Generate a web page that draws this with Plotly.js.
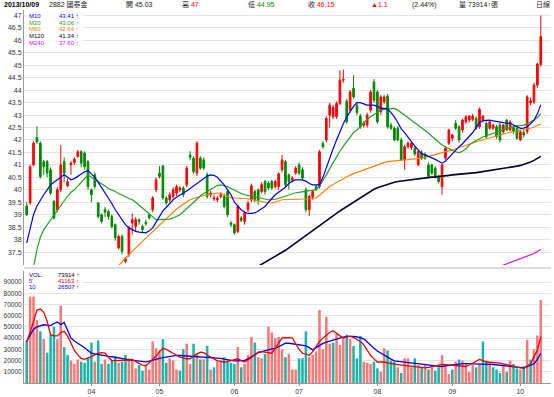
<!DOCTYPE html>
<html><head><meta charset="utf-8">
<script src="https://cdn.plot.ly/plotly-3.0.1.min.js"></script>
<style>html,body{margin:0;padding:0;background:#fff}#c{width:554px;height:397px}</style>
</head><body><div id="c"></div>
<script>
// ---- data (2882 國泰金, daily, index 0 = first visible trading day) ----
const openP = [39.35,39.47,41.0,42.1,41.87,41.13,41.13,40.8,39.53,39.2,40.0,41.13,40.16,41.0,41.1,41.33,41.53,41.47,41.13,40.0,40.6,39.47,39.0,39.2,39.13,38.93,38.6,37.67,38.13,37.13,37.4,38.67,38.53,38.8,38.53,38.7,39.0,39.2,40.0,40.67,40.96,39.67,39.6,39.73,39.87,40.0,40.07,40.2,41.4,41.27,40.67,41.27,41.2,40.6,39.8,39.63,39.6,39.73,39.73,39.93,38.67,38.6,38.33,38.87,38.73,39.2,39.6,39.93,40.0,39.93,40.33,40.27,40.33,40.13,40.13,40.8,41.13,40.6,40.4,40.67,41.0,40.8,40.0,39.2,39.7,40.13,40.13,41.87,42.0,43.0,42.93,42.93,43.47,44.4,43.56,43.2,44.07,43.4,42.96,42.6,42.6,43.2,44.33,43.93,43.13,43.53,43.76,42.6,42.47,42.47,42.0,41.2,41.73,41.7,41.67,41.0,41.49,41.44,41.0,41.0,40.87,40.53,40.13,41.27,41.87,42.07,42.67,42.53,42.4,42.73,42.8,42.83,42.87,42.53,42.8,42.67,42.47,42.47,42.53,42.6,42.33,42.8,42.4,42.5,42.47,42.0,42.3,42.33,43.5,43.53,44.2,45.03];
const highP = [39.5,41.0,41.95,42.55,41.95,41.2,41.2,40.9,39.6,40.1,41.8,41.3,40.45,41.15,41.3,41.6,41.6,41.55,41.2,40.05,40.7,39.5,39.05,39.3,39.2,39.0,38.65,38.2,38.2,37.3,38.55,39.05,38.9,38.85,38.6,38.8,39.05,39.75,40.5,40.95,41.0,39.75,39.9,40.1,40.2,40.15,40.15,40.95,41.55,41.35,41.95,41.35,41.3,40.7,39.95,39.8,39.75,39.9,39.85,40.0,38.75,38.65,39.4,38.95,39.15,39.55,40.25,40.0,40.05,40.3,40.4,40.35,40.4,40.4,40.7,41.4,41.2,40.65,40.55,40.95,41.1,40.9,40.1,39.8,40.0,40.2,41.6,41.95,42.95,43.5,43.4,43.55,44.8,44.83,43.65,44.0,44.6,43.5,43.05,42.75,43.1,44.0,44.45,44.0,43.8,43.8,43.85,42.7,42.55,42.55,42.1,41.8,41.95,41.95,41.75,41.6,41.6,41.5,41.1,41.05,40.95,40.6,41.05,41.75,42.45,42.25,42.8,42.6,42.85,43.0,43.0,43.05,42.95,43.3,43.0,42.75,42.8,42.65,42.6,42.7,42.65,42.85,42.8,42.6,42.55,42.4,42.4,43.8,43.7,44.3,45.1,47.0];
const lowP = [38.95,39.4,40.95,41.85,40.45,40.6,40.5,39.8,38.8,39.1,39.9,40.3,40.1,40.6,41.0,41.3,40.9,40.8,40.0,39.5,40.05,38.85,38.65,38.9,38.8,38.45,37.95,37.6,37.4,37.05,37.3,38.2,38.3,38.6,38.3,38.55,38.8,39.1,39.9,40.45,39.6,39.4,39.5,39.65,39.75,39.9,39.7,40.1,41.2,40.65,40.55,40.8,40.8,39.65,39.7,39.55,39.5,39.65,39.25,38.9,38.5,38.2,38.25,38.7,38.6,39.1,39.5,39.5,39.4,39.85,39.8,40.0,40.0,40.05,40.0,40.7,40.1,40.0,40.3,40.6,40.6,40.4,39.1,38.95,39.6,39.95,40.05,41.65,41.9,42.5,42.85,42.85,43.4,44.3,42.65,43.1,43.65,43.0,42.45,42.5,42.5,43.1,43.5,42.65,43.0,43.45,42.45,42.4,41.95,41.95,41.15,40.8,41.65,41.6,41.35,40.95,41.2,41.2,40.45,40.6,40.45,40.25,39.8,41.2,41.8,41.95,42.4,41.9,42.3,42.65,42.7,42.75,42.4,42.45,42.7,42.05,42.4,42.4,42.05,41.9,42.25,42.35,42.35,42.25,42.0,41.95,42.1,42.25,43.4,43.45,44.1,44.95];
const closeP = [39.0,40.93,41.87,41.93,40.53,40.93,40.67,39.87,38.87,40.0,41.0,40.67,40.33,41.07,41.23,41.53,41.07,40.93,40.13,39.8,40.13,38.93,38.73,39.1,38.93,38.53,38.07,38.13,37.53,37.23,38.47,38.8,38.8,38.73,38.4,38.64,38.87,39.67,40.4,40.53,39.67,39.47,39.8,40.0,40.13,40.07,39.8,40.87,41.3,40.73,41.87,40.87,40.87,39.73,39.87,39.67,39.67,39.8,39.33,39.0,38.6,38.27,39.33,38.77,39.07,39.47,40.16,39.6,39.6,40.2,39.93,40.07,40.07,40.33,40.64,41.2,40.2,40.33,40.47,40.87,40.67,40.47,39.2,39.73,39.93,40.0,41.53,41.73,42.87,43.4,43.3,43.47,44.4,44.43,42.73,43.93,43.73,43.1,42.53,42.67,43.0,43.93,43.6,42.73,43.73,43.73,42.53,42.47,42.0,42.0,41.2,41.73,41.87,41.87,41.44,41.53,41.27,41.27,40.53,40.67,40.53,40.33,41.0,41.67,42.4,42.2,42.47,42.0,42.8,42.93,42.96,42.96,42.47,43.23,42.96,42.13,42.73,42.6,42.13,42.0,42.6,42.4,42.73,42.33,42.07,42.33,42.2,43.73,43.57,44.2,45.05,46.15];
const ma10 = [37.87,38.45,39.0,39.35,39.6,39.8,40.0,40.2,40.3,40.4,40.5,40.6,40.5,40.4,40.45,40.55,40.65,40.72,40.77,40.65,40.5,40.3,40.1,39.85,39.65,39.45,39.2,39.0,38.8,38.6,38.47,38.4,38.33,38.3,38.28,38.27,38.35,38.47,38.7,38.95,39.15,39.3,39.45,39.6,39.7,39.8,39.87,39.95,40.05,40.13,40.25,40.33,40.45,40.55,40.6,40.58,40.5,40.35,40.2,40.0,39.8,39.5,39.35,39.2,39.1,39.05,39.05,39.07,39.15,39.25,39.33,39.5,39.65,39.8,39.9,40.0,40.1,40.25,40.35,40.4,40.4,40.4,40.35,40.25,40.2,40.2,40.2,40.5,40.9,41.3,41.65,42.0,42.35,42.65,42.93,43.15,43.35,43.5,43.5,43.45,43.4,43.4,43.4,43.35,43.27,43.27,43.25,43.1,42.93,42.7,42.45,42.3,42.1,41.9,41.75,41.6,41.45,41.4,41.35,41.3,41.22,41.15,41.07,41.15,41.3,41.45,41.6,41.73,41.85,42.0,42.13,42.3,42.5,42.7,42.78,42.8,42.8,42.77,42.74,42.7,42.7,42.68,42.67,42.6,42.52,42.47,42.48,42.53,42.65,42.8,43.05,43.41];
const ma20 = [35.9,36.4,36.9,37.6,38.1,38.4,38.6,38.8,39.0,39.2,39.4,39.6,39.75,39.9,40.0,40.15,40.3,40.45,40.6,40.5,40.42,40.33,40.25,40.15,40.05,40.0,39.93,39.85,39.8,39.72,39.65,39.6,39.5,39.38,39.25,39.13,39.0,38.9,38.8,38.8,38.8,38.8,38.82,38.87,38.93,39.0,39.12,39.25,39.4,39.53,39.65,39.75,39.85,39.93,40.02,40.1,40.17,40.2,40.18,40.13,40.05,39.98,39.9,39.85,39.8,39.77,39.73,39.7,39.67,39.65,39.62,39.6,39.6,39.62,39.65,39.7,39.75,39.8,39.85,39.88,39.9,39.93,39.95,39.97,39.98,40.0,40.15,40.35,40.6,40.85,41.1,41.33,41.55,41.75,41.95,42.15,42.3,42.4,42.55,42.7,42.82,42.93,43.03,43.12,43.2,43.23,43.25,43.27,43.27,43.2,43.1,43.0,42.9,42.8,42.7,42.6,42.48,42.38,42.28,42.15,42.02,41.9,41.8,41.72,41.65,41.58,41.52,41.49,41.55,41.65,41.8,41.9,41.98,42.05,42.12,42.17,42.22,42.27,42.32,42.37,42.42,42.47,42.52,42.55,42.57,42.58,42.6,42.65,42.72,42.8,42.9,43.06];
const ma60 = [null,null,null,null,null,null,null,null,null,null,null,null,null,null,null,null,null,null,null,null,null,null,null,null,36.55,36.68,36.8,36.95,37.1,37.25,37.4,37.53,37.67,37.8,37.93,38.07,38.2,38.33,38.47,38.6,38.73,38.87,39.0,39.13,39.23,39.33,39.42,39.52,39.6,39.65,39.7,39.74,39.77,39.8,39.82,39.85,39.87,39.85,39.8,39.73,39.68,39.67,39.67,39.67,39.67,39.64,39.6,39.57,39.54,39.52,39.5,39.48,39.47,39.5,39.55,39.6,39.6,39.6,39.6,39.6,39.61,39.62,39.63,39.64,39.65,39.67,39.78,39.9,40.02,40.13,40.21,40.29,40.37,40.45,40.53,40.59,40.65,40.7,40.76,40.82,40.87,40.91,40.96,41.0,41.05,41.09,41.13,41.15,41.16,41.18,41.19,41.2,41.21,41.22,41.23,41.25,41.27,41.3,41.33,41.37,41.41,41.45,41.49,41.52,41.55,41.6,41.65,41.7,41.73,41.78,41.83,41.88,41.93,41.97,42.01,42.05,42.09,42.13,42.17,42.21,42.25,42.29,42.33,42.35,42.37,42.39,42.41,42.43,42.47,42.52,42.57,42.64];
const ma120 = [null,null,null,null,null,null,null,null,null,null,null,null,null,null,null,null,null,null,null,null,null,null,null,null,null,null,null,null,null,null,null,null,null,null,null,null,null,null,null,null,null,null,null,null,null,null,null,null,null,null,null,null,null,null,null,null,null,null,null,null,null,null,null,null,36.6,36.7,36.78,36.85,36.93,37.0,37.08,37.15,37.23,37.3,37.38,37.47,37.57,37.67,37.77,37.87,37.98,38.08,38.18,38.28,38.38,38.48,38.58,38.68,38.78,38.88,38.97,39.06,39.15,39.24,39.33,39.42,39.51,39.6,39.69,39.78,39.87,39.95,40.02,40.08,40.13,40.18,40.22,40.26,40.3,40.33,40.35,40.37,40.39,40.41,40.43,40.45,40.47,40.48,40.5,40.51,40.52,40.53,40.55,40.56,40.58,40.6,40.61,40.62,40.63,40.65,40.66,40.68,40.69,40.71,40.73,40.75,40.77,40.79,40.81,40.83,40.85,40.87,40.89,40.92,40.95,40.98,41.02,41.07,41.12,41.18,41.25,41.34];
const ma240 = [null,null,null,null,null,null,null,null,null,null,null,null,null,null,null,null,null,null,null,null,null,null,null,null,null,null,null,null,null,null,null,null,null,null,null,null,null,null,null,null,null,null,null,null,null,null,null,null,null,null,null,null,null,null,null,null,null,null,null,null,null,null,null,null,null,null,null,null,null,null,null,null,null,null,null,null,null,null,null,null,null,null,null,null,null,null,null,null,null,null,null,null,null,null,null,null,null,null,null,null,null,null,null,null,null,null,null,null,null,null,null,null,null,null,null,null,null,null,null,null,null,null,null,null,null,null,null,null,null,null,null,null,null,null,null,36.72,36.77,36.82,36.87,36.92,36.97,37.02,37.07,37.12,37.17,37.22,37.27,37.32,37.38,37.44,37.52,37.6];
const volume = [38,77,77,56,46,39,27,43,50,39,69,32,25,20,17,21,19,18,23,36,19,38,17,21,17,20,24,18,19,25,22,20,13,16,11,16,12,37,31,29,39,18,22,20,12,11,30,35,17,35,26,21,21,33,12,14,19,20,23,20,18,17,32,14,17,25,41,36,23,22,26,50,45,40,41,30,23,26,12,12,22,22,46,23,25,28,65,30,59,35,36,44,34,40,43,39,33,22,42,19,18,17,19,13,10,31,29,20,19,14,9,22,22,14,22,16,14,17,12,16,11,14,25,17,8,12,19,21,20,17,10,16,14,17,37,20,18,14,12,9,17,10,20,17,13,12,15,38.5,20.9,30.1,42.4,73.914].map(v=>v*1000);
const volMa5 = [37,45,55,65,66,63,55,43,42,42,45,46,42,35,29,25,22,21,22,23.5,25,26.5,27,26.7,23,20,20,20,20,20,20.5,21,19,17.5,16,15.6,18,21,24,28,30.8,30,28,26,24.7,23,22,21.6,21.6,24,26,27.5,27,25,23,21,19.7,19.2,18.7,19,20,21,21.6,20,18.7,20.5,23,25.5,27.5,28,27.5,26.8,26.5,31,36,40.3,40.5,40.5,40.3,35,30,26.5,25.5,24.7,28,33,37,40,42.5,45,46.6,44,42,40.3,41,41.8,40.5,38.8,37,34,29,24.7,21.5,18.7,18.7,18.7,18,17.2,16.8,16.4,16,15.6,15.2,14.8,14.4,14,13.6,13.4,14,14.6,15.2,15.9,16.5,16.4,16.1,15.9,15.6,15.3,15,14.7,16,17.5,19.5,21,20,18.7,18.5,18.3,18,17.8,17,16.2,15.5,14.7,14,13.5,13.2,15,17.2,23.3,29.4,41.163].map(v=>v*1000);
const volMa10 = [37,42,48,50,51,51.9,51.5,51.2,53,54.3,52,54,47,40,37.5,35.5,34,31.5,29,26.7,26,25.3,24.7,24.3,23.8,23.4,23,22.4,21.8,21.2,20.6,20.3,20,19.6,19.2,18.8,19.5,20.5,21.4,22,22.6,23.2,23.8,24.4,24.7,24.5,24.3,24.2,24,23.9,23.8,23.6,23.4,23.2,23,22.8,22.7,22,21.2,20.5,19.8,19.7,19.8,20,20.2,21.5,23.5,25.5,27,28,29,29.8,30.4,30.9,32.5,34,35.6,35.4,35,34.6,34,33.6,33,31.5,29.5,31.5,33.5,35.3,36.5,37.5,38.5,39.2,40,40.8,41.5,41.8,41.5,41,40.4,39.4,36.5,33.5,31,28.5,26.5,24.7,23,21.3,19.7,19.4,19,18.7,18.3,17.9,17.5,17.1,16.7,16.4,16,15.7,15.3,15,14.7,15.2,15.7,16.2,16.7,17.2,17.2,17.2,17.2,17.2,17.2,17,16.9,16.8,16.6,16.5,16.1,15.8,15.4,15.1,14.8,14.5,14.1,13.8,13.4,14.5,15.8,17.2,21,26.507].map(v=>v*1000);
const monthTickIdx = [19,39,61,80,103,125,145];
const monthTickText = ['04','05','06','07','08','09','10'];
const priceTicks = [37.5,38,38.5,39,39.5,40,40.5,41,41.5,42,42.5,43,43.5,44,44.5,45,45.5,46,46.5,47];
const volTicks = [10000,20000,30000,40000,50000,60000,70000,80000,90000];
const header = {date:'2013/10/09', code:'2882 國泰金', open:'45.03', high:'47', low:'44.95', close:'46.15', chg:'▲1.1', pct:'(2.44%)', vol:'73914↑張', period:'日線'};
const maLegend = [['M10','43.41 ↑','#0000ee'],['M20','43.06 ↑','#22a022'],['M60','42.64 ↑','#ff8000'],['M120','41.34 ↑','#000033'],['M240','37.60 ↑','#ee00ee']];
const volLegend = [['VOL.','73914 ↑','#000000'],['5','41163 ↑','#ee0000'],['10','26507 ↑','#0000ee']];

// ---- figure ----
const W=554,H=397, ML=24, MR=3, MT=10, MB=14;
const idx = closeP.map((_,i)=>i);
const px = x => (x-ML)/(W-ML-MR);
const py = y => (H-MB-y)/(H-MT-MB);
const RED='#ff0000', GRN='#008800';
const volColors = closeP.map((c,i)=> (i===0 ? c>=openP[i] : c>=closeP[i-1]) ? '#f47a7a' : '#1db3a8');

const traces = [
 {type:'candlestick', x:idx, open:openP, high:highP, low:lowP, close:closeP, xaxis:'x', yaxis:'y',
  increasing:{line:{color:RED,width:1}, fillcolor:RED}, decreasing:{line:{color:GRN,width:1}, fillcolor:GRN},
  whiskerwidth:0, hoverinfo:'skip', showlegend:false},
 {type:'scatter', mode:'lines', x:idx, y:ma240, line:{color:'#ee00ee',width:1.2}, yaxis:'y', hoverinfo:'skip', showlegend:false},
 {type:'scatter', mode:'lines', x:idx, y:ma120, line:{color:'#000033',width:1.6}, yaxis:'y', hoverinfo:'skip', showlegend:false},
 {type:'scatter', mode:'lines', x:idx, y:ma60, line:{color:'#ff8000',width:1.2}, yaxis:'y', hoverinfo:'skip', showlegend:false},
 {type:'scatter', mode:'lines', x:idx, y:ma20, line:{color:'#22a022',width:1.2}, yaxis:'y', hoverinfo:'skip', showlegend:false},
 {type:'scatter', mode:'lines', x:idx, y:ma10, line:{color:'#0000ee',width:1.2}, yaxis:'y', hoverinfo:'skip', showlegend:false},
 {type:'bar', x:idx, y:volume, marker:{color:volColors, line:{width:0}}, yaxis:'y2', hoverinfo:'skip', showlegend:false},
 {type:'scatter', mode:'lines', x:idx, y:volMa10, line:{color:'#0000ee',width:1.3}, yaxis:'y2', hoverinfo:'skip', showlegend:false},
 {type:'scatter', mode:'lines', x:idx, y:volMa5, line:{color:'#ee0000',width:1.3}, yaxis:'y2', hoverinfo:'skip', showlegend:false}
];

const F = 'Liberation Sans, Noto Sans CJK TC, sans-serif';
const ann = [];
function txt(x,y,t,color,size,opts){ ann.push(Object.assign({xref:'paper',yref:'paper',x:px(x),y:py(y),text:t,showarrow:false,
  xanchor:'left',yanchor:'middle',font:{family:F,size:size||7,color:color||'#222'}},opts||{})); }
// header
txt(2,5,'<b>'+header.date+'</b>','#000',7);
txt(47,5,header.code,'#222',7);
txt(124,5,'開 '+header.open,'#222',7);
txt(180,5,'高 <span style="color:#ff0000">'+header.high+'</span>','#222',7);
txt(246,5,'低 <span style="color:#008800">'+header.low+'</span>','#222',7);
txt(306,5,'收 <span style="color:#ff0000">'+header.close+'</span>','#222',7);
txt(369,5,header.chg,'#ff0000',7);
txt(410,5,header.pct,'#222',7);
txt(457,5,'量 '+header.vol,'#222',7);
txt(534,5,header.period,'#222',7);
// MA legend
maLegend.forEach((r,k)=>{ const y=16+k*6.7; txt(27,y,r[0],r[2],6); txt(81,y,r[1],r[2],6,{xanchor:'right'}); });
volLegend.forEach((r,k)=>{ const y=275+k*6.2; txt(27,y,r[0],r[2],6); txt(81,y,r[1],r[2],6,{xanchor:'right'}); });

const shapes = [
 {type:'rect',xref:'paper',yref:'paper',x0:px(25),x1:px(83),y0:py(12.5),y1:py(46),fillcolor:'#ffffff',line:{width:0},layer:'above',opacity:0.85},
 {type:'rect',xref:'paper',yref:'paper',x0:px(25),x1:px(83),y0:py(271.5),y1:py(292),fillcolor:'#ffffff',line:{width:0},layer:'above',opacity:0.85},
 {type:'line',xref:'paper',yref:'paper',x0:0,x1:1,y0:py(268),y1:py(268),line:{color:'#bbbbbb',width:1}}
];

const layout = {
 width:W, height:H, margin:{l:ML,r:MR,t:MT,b:MB}, paper_bgcolor:'#fff', plot_bgcolor:'#fff',
 font:{family:F,size:7,color:'#333'}, showlegend:false, bargap:0.25, dragmode:false,
 xaxis:{anchor:'y2', range:[-0.8,154], tickvals:monthTickIdx, ticktext:monthTickText, showgrid:false, zeroline:false,
   ticks:'outside', ticklen:2, tickcolor:'#999', showline:true, linecolor:'#999', linewidth:1,
   rangeslider:{visible:false}, tickfont:{size:7,color:'#333'}, fixedrange:true},
 yaxis:{domain:[py(265),1], range:[36.98,47.22], tickvals:priceTicks, ticktext:priceTicks.map(String), showgrid:true,
   gridcolor:'#e4e4e4', gridwidth:1, zeroline:false, showline:true, linecolor:'#999', ticks:'', tickfont:{size:7,color:'#333'}, fixedrange:true},
 yaxis2:{domain:[0,py(271)], range:[0,99800], tickvals:volTicks, ticktext:volTicks.map(String), showgrid:true,
   gridcolor:'#e4e4e4', zeroline:false, showline:true, linecolor:'#999', ticks:'', tickfont:{size:6.5,color:'#333'}, fixedrange:true},
 annotations:ann, shapes:shapes
};
Plotly.newPlot('c', traces, layout, {staticPlot:true, displayModeBar:false});
</script></body></html>
